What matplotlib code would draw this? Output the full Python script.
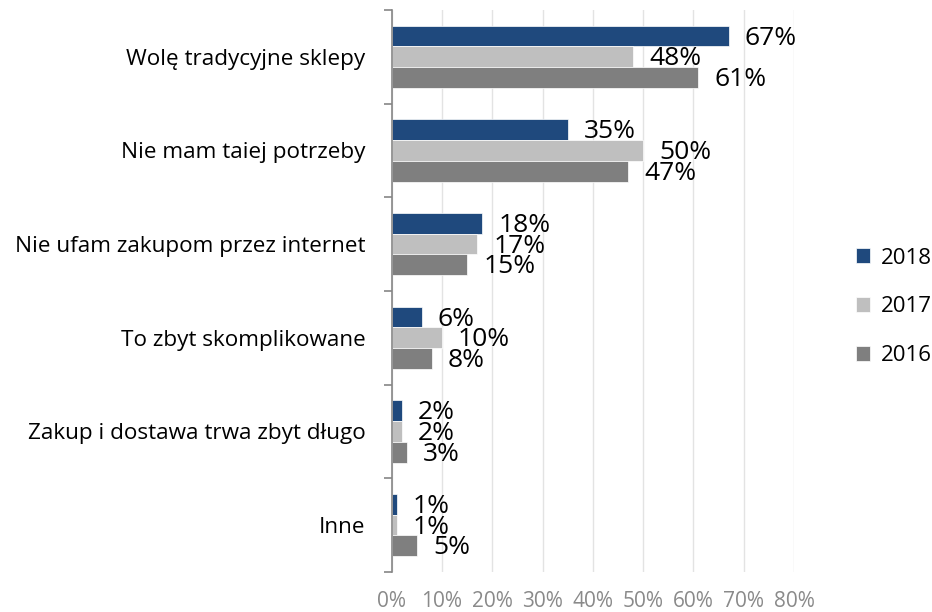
import matplotlib
matplotlib.use("Agg")
import matplotlib.pyplot as plt
import numpy as np

plt.rcParams['font.family'] = ['Open Sans', 'DejaVu Sans']

categories = [
    "Wolę tradycyjne sklepy",
    "Nie mam taiej potrzeby",
    "Nie ufam zakupom przez internet",
    "To zbyt skomplikowane",
    "Zakup i dostawa trwa zbyt długo",
    "Inne",
]
years = ["2018", "2017", "2016"]
v2018 = [67, 35, 18, 6, 2, 1]
v2017 = [48, 50, 17, 10, 2, 1]
v2016 = [61, 47, 15, 8, 3, 5]
colors = ["#1F497D", "#BFBFBF", "#7F7F7F"]

fig = plt.figure(figsize=(9.32, 6.12), dpi=100)
ax = fig.add_axes([0.4203, 0.0654, 0.8519 - 0.4203, 0.9837 - 0.0654])

y = np.arange(len(categories))
h = 0.221
for i, (vals, c, yr) in enumerate(zip([v2018, v2017, v2016], colors, years)):
    pos = y + (i - 1) * h
    ax.barh(pos, vals, height=h, color=c, edgecolor="white", linewidth=0.5, label=yr)
    for p, v in zip(pos, vals):
        ax.annotate(f"{v}%", (v, p), xytext=(11.5, -1.5), textcoords="offset points",
                    ha="left", va="center", fontsize=19, color="#000000")

ax.set_xlim(0, 80)
ax.set_ylim(len(categories) - 0.5, -0.5)
ax.set_xticks(np.arange(0, 81, 10))
ax.set_xticklabels([f"{t}%" for t in range(0, 81, 10)], color="#8A8A8A", fontsize=15)
ax.tick_params(axis="x", length=0, pad=14)
ax.grid(axis="x", color="#E3E3E3", linewidth=1)
ax.set_axisbelow(True)

ax.set_yticks(y)
ax.set_yticklabels(categories, fontsize=16.2)
ax.set_yticks(np.arange(-0.5, len(categories), 1), minor=True)
ax.tick_params(axis="y", which="major", length=0, pad=19)
ax.tick_params(axis="y", which="minor", length=6, width=1.2, color="#868686")

for s in ["top", "right", "bottom"]:
    ax.spines[s].set_visible(False)
ax.spines["left"].set_color("#868686")
ax.spines["left"].set_linewidth(1.2)

fig.legend(loc="center left", bbox_to_anchor=(0.9185, 0.4984), frameon=False,
           fontsize=16, handlelength=0.65, handleheight=0.65, handletextpad=0.45,
           labelspacing=1.25, borderpad=0, borderaxespad=0)

fig.savefig("out.png", dpi=100)
